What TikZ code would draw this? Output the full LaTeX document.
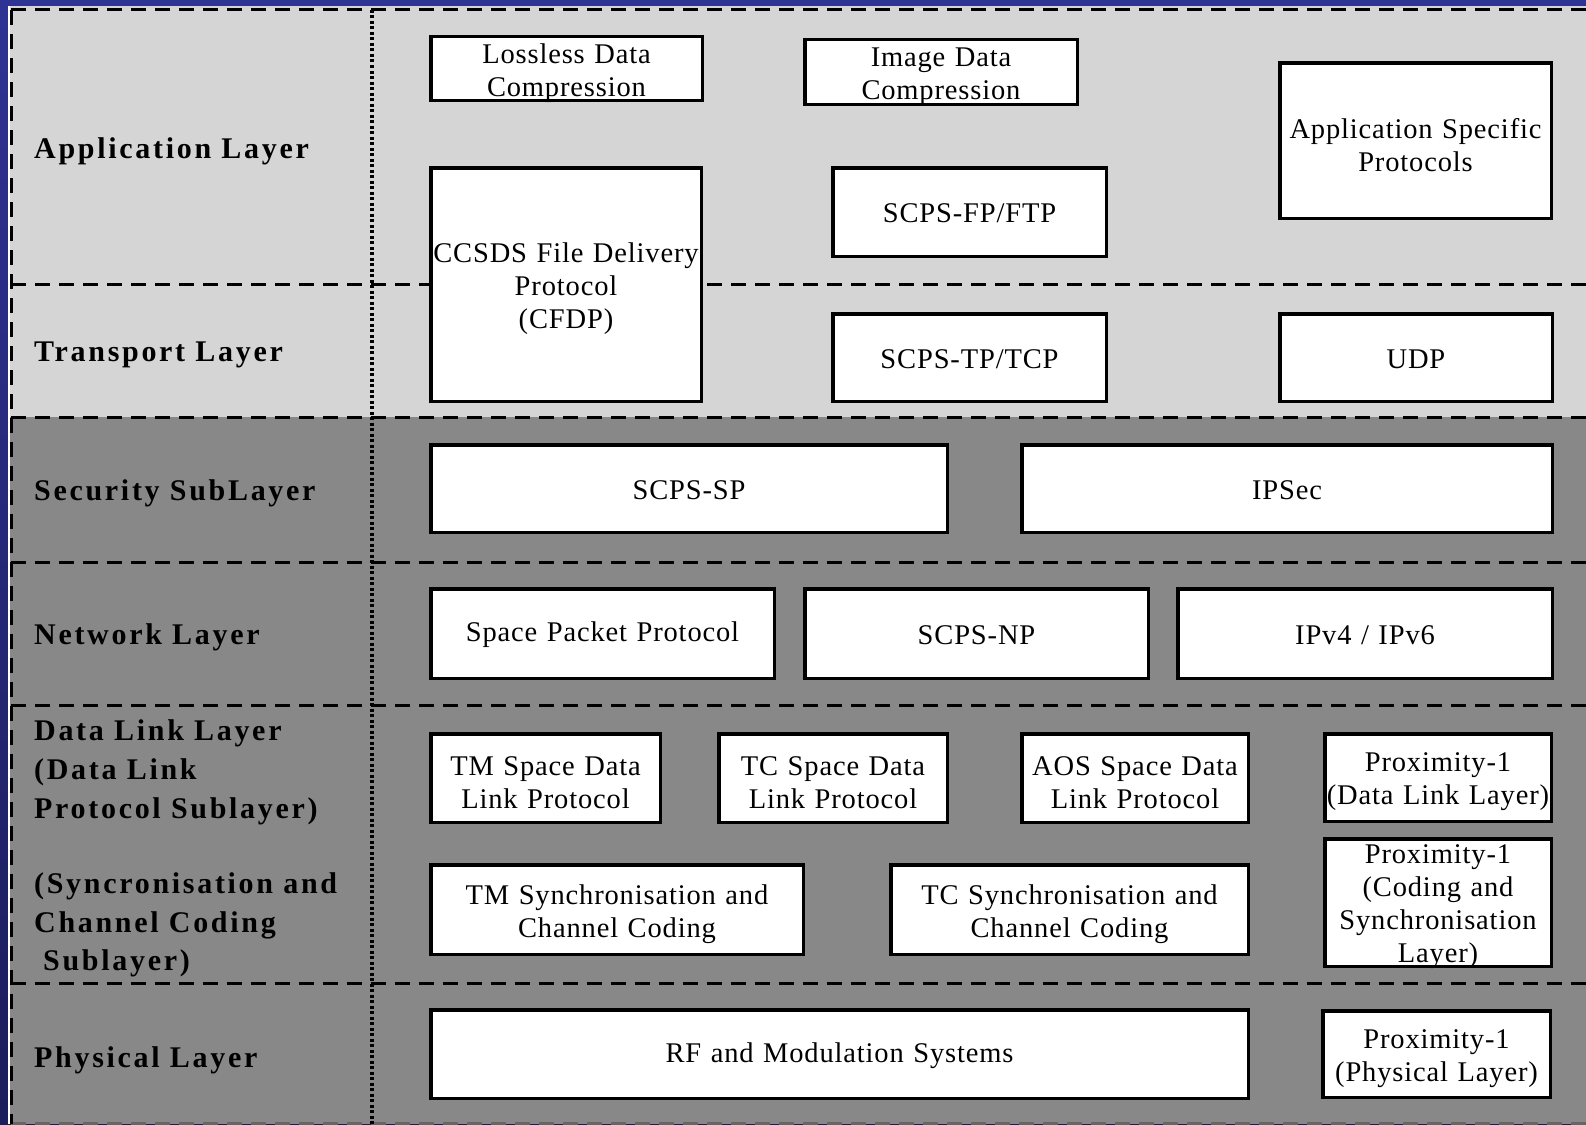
\documentclass[tikz,border=0pt]{standalone}
\usepackage{fontspec}
\setmainfont{Liberation Serif}
\newfontfamily\boxfont[LetterSpace=3]{Liberation Serif}
\newfontfamily\labfont[LetterSpace=9]{Liberation Serif}
\definecolor{frameblueA}{HTML}{2F3393}
\definecolor{frameblueB}{HTML}{1C1D5C}
\definecolor{upperband}{HTML}{D5D5D5}
\definecolor{lowerband}{HTML}{888888}
\tikzset{
  protobox/.style={draw=black, fill=white, line width=3.5pt, inner sep=0pt},
  protext/.style={inner sep=0pt, align=center,
    font={\boxfont\fontsize{28.5}{33}\selectfont}},
  layerlabel/.style={anchor=base west, inner sep=0pt,
    font={\labfont\bfseries\fontsize{30}{38}\selectfont}},
  bandline/.style={line width=3pt, dash pattern=on 15pt off 9pt},
  colline/.style={line width=4pt, dash pattern=on 3pt off 2.5pt}
}
% protocol box given by its outer corners (x1,y1) (x2,y2);
% the optional argument lowers the text a little
\newcommand\protocolbox[7][-4.5]{%
  \pgfmathsetmacro\bw{#5-#3-3.5}%
  \pgfmathsetmacro\bh{#6-#4-3.5}%
  \node[protobox, minimum width=\bw pt, minimum height=\bh pt] (#2)
    at ({(#3+#5)/2},{(#4+#6)/2}) {};
  \node[protext, text width=\bw pt] (#2-text) at ([yshift=#1pt]#2.center) {#7};}
\begin{document}
\begin{tikzpicture}[x=1pt,y=-1pt]
\useasboundingbox (0,0) rectangle (1586,1124);
% frame and layer bands
\shade[top color=frameblueA, bottom color=frameblueB] (0,0) rectangle (1586,1124);
\fill[white] (8,6) rectangle (1586,1124);
\fill[upperband] (9.5,6) rectangle (1586,417);
\fill[lowerband] (9.5,417) rectangle (1586,1124);
% layer separators
\foreach \yy in {10,284,417,562,705,983}
  \draw[bandline] (11,\yy) -- (1586,\yy);
\draw[bandline, draw=black!60] (11,1123) -- (1586,1123);
\draw[bandline] (11,10) -- (11,1124);
\draw[colline] (372,10) -- (372,1124);
% layer names
\node[layerlabel] (lapp) at (34,158) {Application Layer};
\node[layerlabel] (ltra) at (34,361) {Transport Layer};
\node[layerlabel] (lsec) at (34,500) {Security SubLayer};
\node[layerlabel] (lnet) at (34,644) {Network Layer};
\node[layerlabel] (ldl1) at (34,740) {Data Link Layer};
\node[layerlabel] (ldl2) at (34,779) {(Data Link};
\node[layerlabel] (ldl3) at (34,818) {Protocol Sublayer)};
\node[layerlabel] (lsc1) at (34,893) {(Syncronisation and};
\node[layerlabel] (lsc2) at (34,932) {Channel Coding};
\node[layerlabel] (lsc3) at (43,970) {Sublayer)};
\node[layerlabel] (lphy) at (34,1067) {Physical Layer};
% application layer
\protocolbox{lossless}{429}{35}{704}{102}{Lossless Data\\Compression}
\protocolbox{imgdata}{803}{38}{1079}{106}{Image Data\\Compression}
\protocolbox{asp}{1278}{61}{1553}{220}{Application Specific\\Protocols}
\protocolbox{cfdp}{429}{166}{703}{403}{CCSDS File Delivery\\Protocol\\(CFDP)}
\protocolbox[-1.5]{scpsfp}{831}{166}{1108}{258}{SCPS-FP/FTP}
% transport layer
\protocolbox[-1.5]{scpstp}{831}{312}{1108}{403}{SCPS-TP/TCP}
\protocolbox[-1.5]{udp}{1278}{312}{1554}{403}{UDP}
% security sublayer
\protocolbox[-1.5]{scpssp}{429}{443}{949}{534}{SCPS-SP}
\protocolbox[-1.5]{ipsec}{1020}{443}{1554}{534}{IPSec}
% network layer
\protocolbox[-1.5]{spp}{429}{587}{776}{680}{Space Packet Protocol}
\protocolbox[-1.5]{scpsnp}{803}{587}{1150}{680}{SCPS-NP}
\protocolbox[-1.5]{ipv}{1176}{587}{1554}{680}{IPv4 / IPv6}
% data link layer
\protocolbox{tmdl}{429}{732}{662}{824}{TM Space Data\\Link Protocol}
\protocolbox{tcdl}{717}{732}{949}{824}{TC Space Data\\Link Protocol}
\protocolbox{aosdl}{1020}{732}{1250}{824}{AOS Space Data\\Link Protocol}
\protocolbox{proxdl}{1323}{732}{1553}{823}{Proximity-1\\(Data Link Layer)}
\protocolbox{tmsync}{429}{863}{805}{956}{TM Synchronisation and\\Channel Coding}
\protocolbox{tcsync}{889}{863}{1250}{956}{TC Synchronisation and\\Channel Coding}
\protocolbox{proxcs}{1323}{837}{1553}{968}{Proximity-1\\(Coding and\\Synchronisation\\Layer)}
% physical layer
\protocolbox[-1.5]{rf}{429}{1008}{1250}{1100}{RF and Modulation Systems}
\protocolbox{proxphy}{1321}{1009}{1552}{1099}{Proximity-1\\(Physical Layer)}
\end{tikzpicture}
\end{document}
